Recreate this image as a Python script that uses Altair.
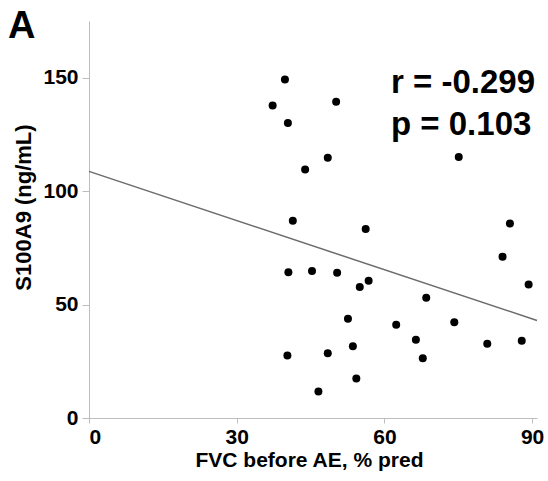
import altair as alt
import pandas as pd

# Data
fvc = [39.8, 37.3, 40.4, 50.2, 48.5, 43.9, 41.4, 56.2, 75.1, 85.5,
       84.0, 89.3, 68.5, 40.5, 45.3, 50.4, 55.0, 56.8, 52.6, 62.4,
       74.2, 40.3, 48.5, 53.6, 66.4, 67.8, 80.9, 87.9, 54.3, 46.6]
s100a9 = [149.2, 137.8, 130.0, 139.4, 114.7, 109.5, 87.0, 83.3, 115.0, 85.7,
          71.1, 58.9, 53.0, 64.3, 64.8, 64.0, 57.7, 60.5, 43.8, 41.1,
          42.2, 27.6, 28.5, 31.6, 34.5, 26.3, 32.7, 34.1, 17.4, 11.7]

fit_x = [0, 91]
fit_y = [108.7, 43.0]

x_ticks = [0, 30, 60, 90]
y_ticks = [0, 50, 100, 150]

stats_lines = ["r = -0.299", "p = 0.103"]
panel_label = "A"

FONT = "Liberation Sans"

pts = pd.DataFrame({"fvc": fvc, "s100a9": s100a9})
fit = pd.DataFrame({"fvc": fit_x, "s100a9": fit_y})

xscale = alt.Scale(domain=[0, 91], nice=False, zero=False)
yscale = alt.Scale(domain=[0, 175], nice=False, zero=False)

xaxis = alt.Axis(
    values=x_ticks, title="FVC before AE, % pred", grid=False,
    labelFont=FONT, labelFontSize=21, labelFontWeight="bold", labelColor="#000",
    titleFont=FONT, titleFontSize=21, titleFontWeight="bold", titleColor="#000",
    domainColor="#bdbdbd", tickColor="#bdbdbd", tickSize=5, labelPadding=3,
    titleX=220, titleY=48, titleBaseline="alphabetic", titleAlign="center",
)
yaxis = alt.Axis(
    values=y_ticks, title="S100A9 (ng/mL)", grid=False,
    labelFont=FONT, labelFontSize=21, labelFontWeight="bold", labelColor="#000",
    titleFont=FONT, titleFontSize=22, titleFontWeight="bold", titleColor="#000",
    domainColor="#bdbdbd", tickColor="#bdbdbd", tickSize=7, labelPadding=4,
    titleX=-59, titleY=186, titleBaseline="alphabetic", titleAlign="center",
    titleAngle=270,
)

points = alt.Chart(pts).mark_circle(size=64, color="#000", opacity=1).encode(
    x=alt.X("fvc:Q", scale=xscale, axis=xaxis),
    y=alt.Y("s100a9:Q", scale=yscale, axis=yaxis),
)

line = alt.Chart(fit).mark_line(color="#6b6b6b", strokeWidth=1.5).encode(
    x=alt.X("fvc:Q", scale=xscale),
    y=alt.Y("s100a9:Q", scale=yscale),
)

stats_df = pd.DataFrame({"text": [stats_lines[0]]})
r_text = alt.Chart(stats_df).mark_text(
    font=FONT, fontSize=33, fontWeight="bold", color="#000",
    align="left", baseline="alphabetic",
).encode(text="text:N", x=alt.value(302), y=alt.value(72))

p_df = pd.DataFrame({"text": [stats_lines[1]]})
p_text = alt.Chart(p_df).mark_text(
    font=FONT, fontSize=33, fontWeight="bold", color="#000",
    align="left", baseline="alphabetic",
).encode(text="text:N", x=alt.value(302), y=alt.value(114))

a_df = pd.DataFrame({"text": [panel_label]})
a_text = alt.Chart(a_df).mark_text(
    font=FONT, fontSize=38, fontWeight="bold", color="#000",
    align="left", baseline="alphabetic",
).encode(text="text:N", x=alt.value(-81), y=alt.value(17))

chart = alt.layer(line, points, r_text, p_text, a_text).properties(
    width=448, height=397,
    autosize=alt.AutoSizeParams(type="none"),
    padding={"left": 89, "top": 21, "right": 11, "bottom": 63},
    background="white",
).configure_view(stroke=None)

chart.save("out.html", embed_options={"renderer": "svg", "actions": False})
